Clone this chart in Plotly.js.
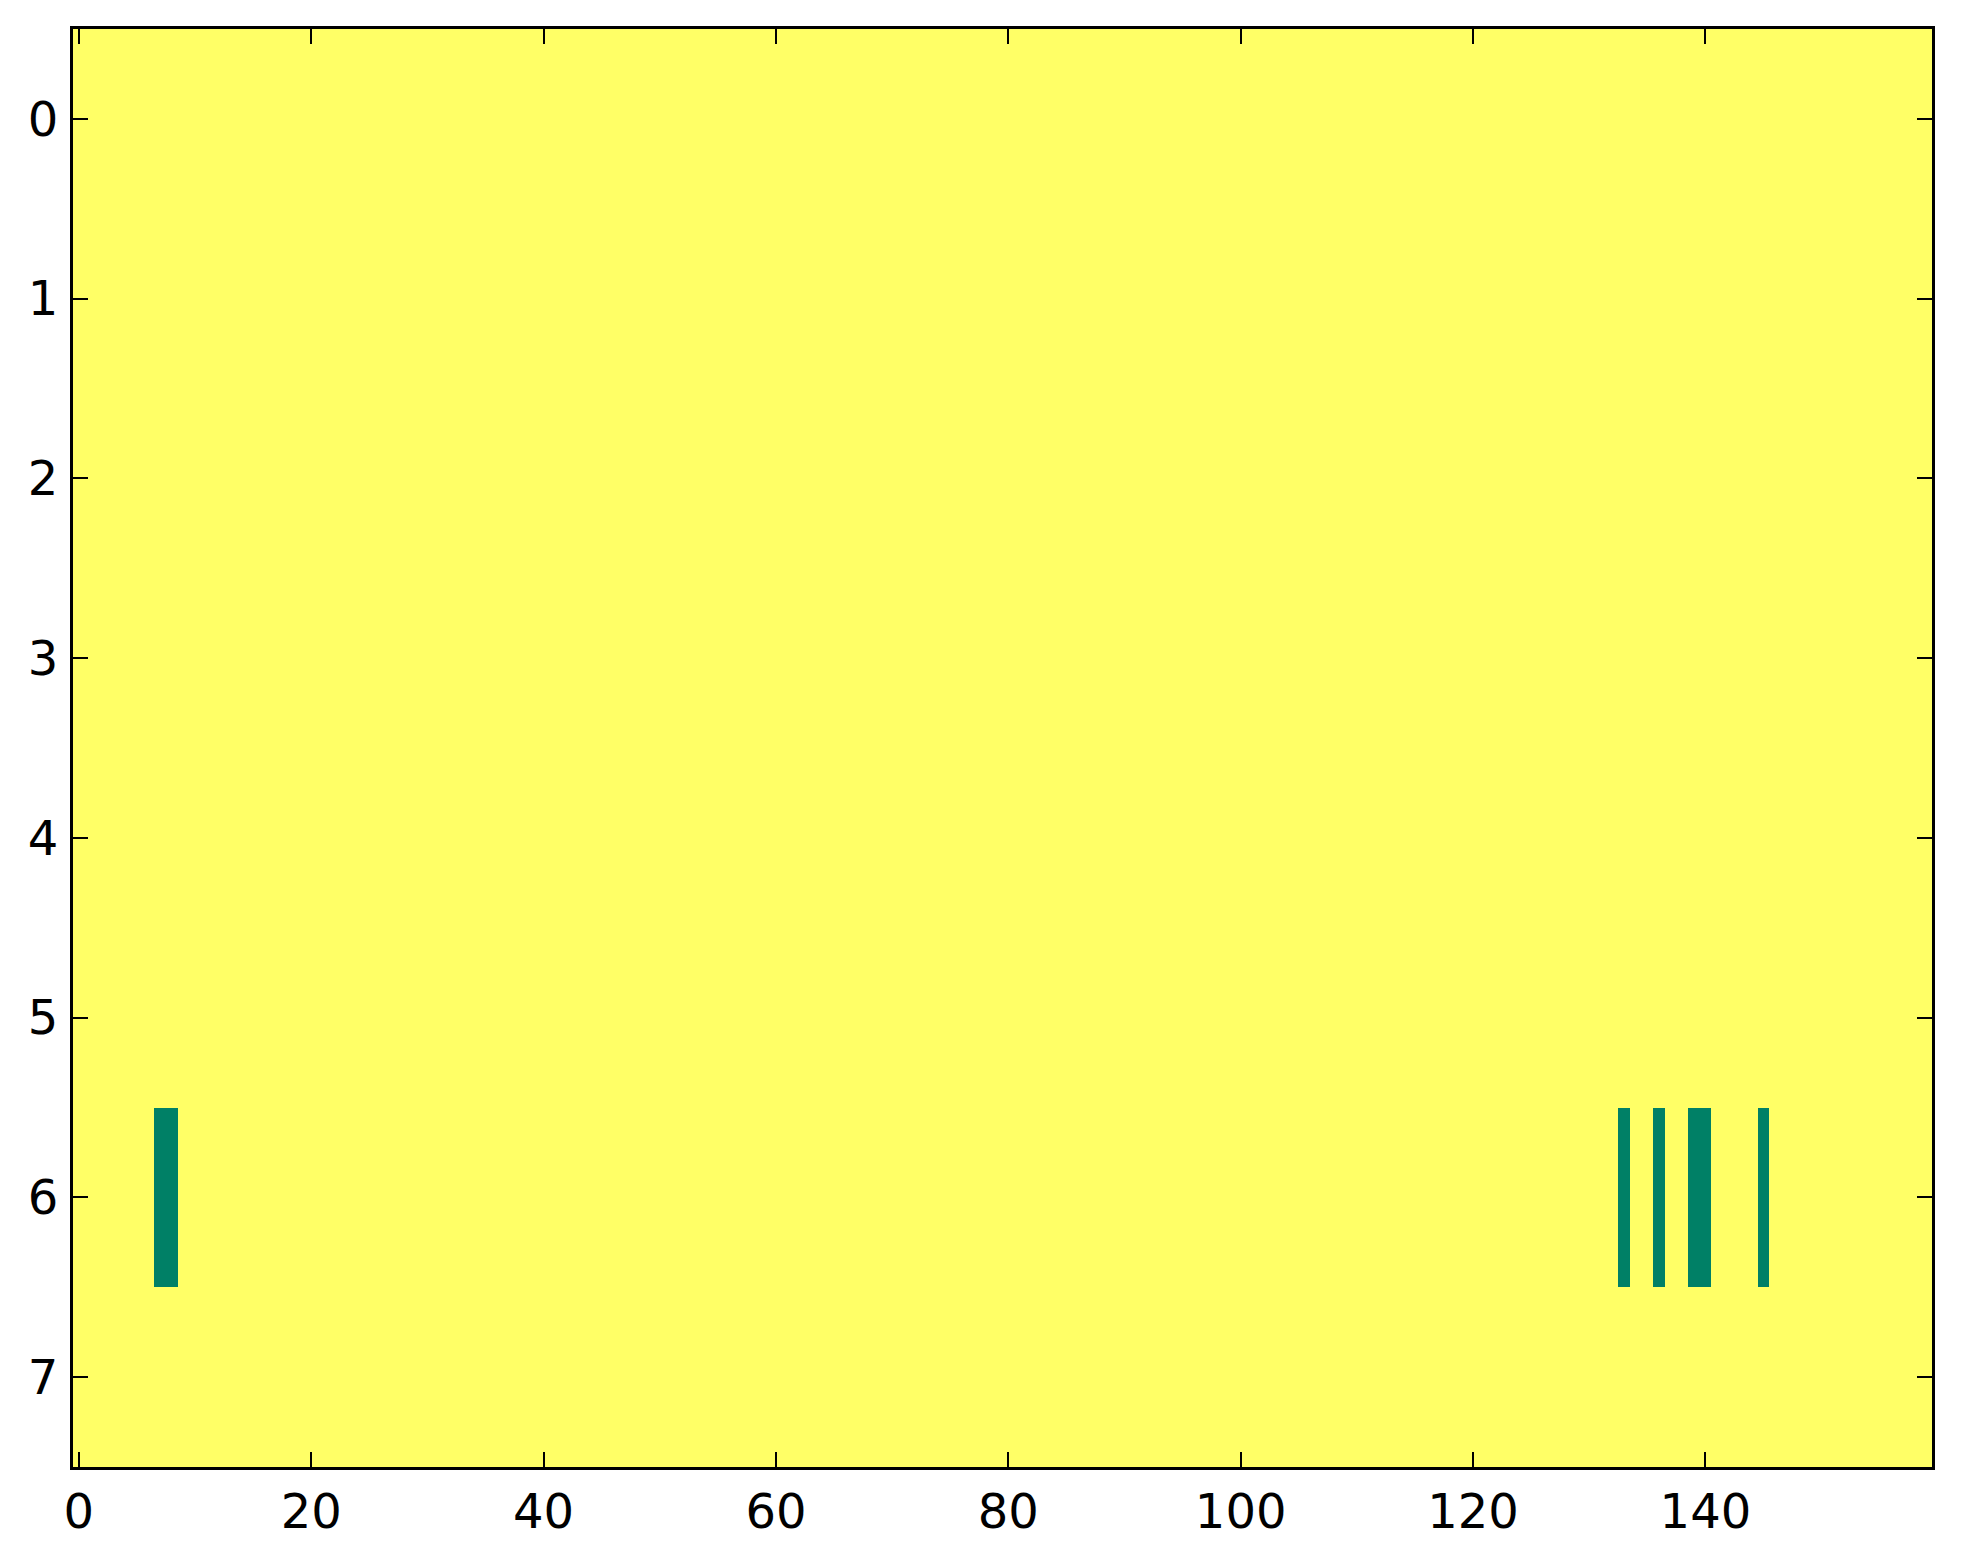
<!DOCTYPE html>
<html>
<head>
<meta charset="utf-8">
<script src="https://cdn.plot.ly/plotly-3.0.1.min.js"></script>
<style>html,body{margin:0;padding:0;background:#fff;}</style>
</head>
<body>
<div id="chart" style="width:1963px;height:1564px;"></div>
<script>
// Grid: 8 rows x 160 columns, value 1 everywhere except the listed zero cells
const nRows = 8;
const nCols = 160;
const zeroRow = 6;
const zeroCols = [7, 8, 133, 136, 139, 140, 145];
const xTickVals = [0, 20, 40, 60, 80, 100, 120, 140];
const yTickVals = [0, 1, 2, 3, 4, 5, 6, 7];

const xs = Array.from({length: nCols}, (_, i) => i);
const ys = Array.from({length: nRows}, (_, i) => i);
const z = ys.map(r => xs.map(c => (r === zeroRow && zeroCols.includes(c)) ? 0 : 1));

const trace = {
  type: 'heatmap',
  x: xs, y: ys, z: z,
  zmin: 0, zmax: 1,
  colorscale: [[0, '#008066'], [1, '#ffff66']],
  showscale: false,
  hoverinfo: 'skip'
};

const axisCommon = {
  showgrid: false, zeroline: false,
  showline: true, linecolor: '#000', linewidth: 3, mirror: 'ticks',
  ticks: 'inside', ticklen: 15, tickwidth: 2, tickcolor: '#000',
  tickfont: {family: 'DejaVu Sans', size: 48, color: '#000'}
};

const layout = {
  width: 1963, height: 1564,
  margin: {l: 73, r: 31, t: 29, b: 97, pad: 0},
  paper_bgcolor: '#fff', plot_bgcolor: '#ffff66',
  xaxis: Object.assign({}, axisCommon, {range: [-0.5, 159.5], tickvals: xTickVals, ticktext: xTickVals.map(String), ticklabelstandoff: 0}),
  yaxis: Object.assign({}, axisCommon, {range: [7.5, -0.5], tickvals: yTickVals, ticktext: yTickVals.map(String), ticklabelstandoff: 2}),
  showlegend: false
};

Plotly.newPlot('chart', [trace], layout, {staticPlot: true, displayModeBar: false});
</script>
</body>
</html>
